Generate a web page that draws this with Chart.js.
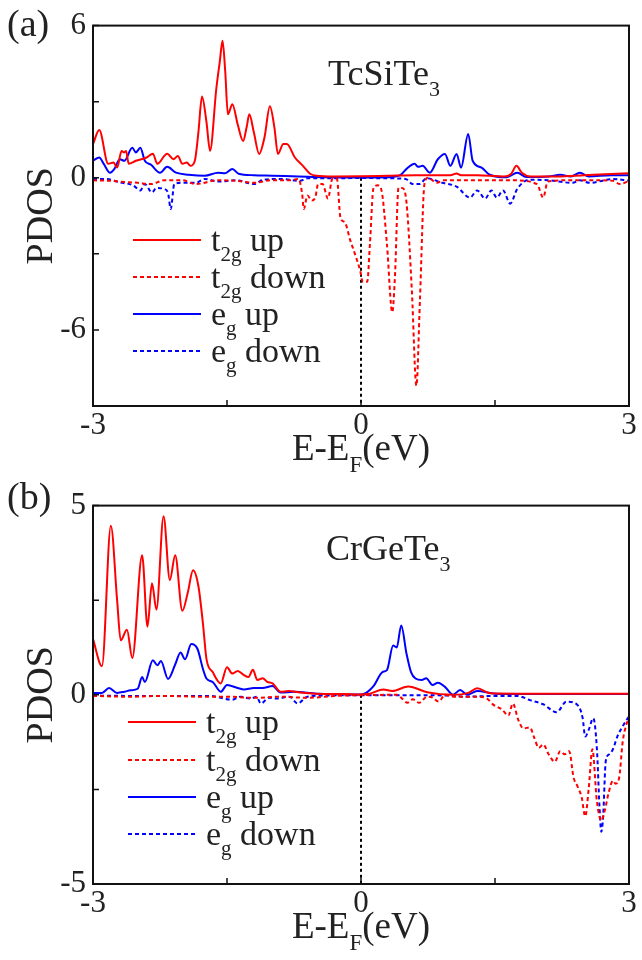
<!DOCTYPE html>
<html>
<head>
<meta charset="utf-8">
<script src="https://cdn.jsdelivr.net/npm/chart.js@4.4.0/dist/chart.umd.min.js"></script>
<style>
  html, body { margin: 0; padding: 0; background: #fff; }
  #wrap { position: relative; width: 642px; height: 960px; }
  .panel { position: absolute; left: 0; width: 642px; height: 480px; }
</style>
</head>
<body>
<div id="wrap">
  <div class="panel" style="top:0"><canvas id="chart-a"></canvas></div>
  <div class="panel" style="top:480px"><canvas id="chart-b"></canvas></div>
</div>
<script>
  'use strict';

  // ===========================================================================
  // DATA — (a) TcSiTe3
  // ===========================================================================

  const aT2gUpE = [-3, -2.93, -2.83, -2.77, -2.73, -2.68, -2.65, -2.63, -2.6, -2.52, -2.4, -2.33, -2.28, -2.17, -2.1, -2.05, -2.0, -1.95, -1.91, -1.86, -1.82, -1.78, -1.73, -1.69, -1.62, -1.58, -1.55, -1.52, -1.49, -1.44, -1.38, -1.32, -1.28, -1.25, -1.2, -1.14, -1.08, -1.02, -0.97, -0.93, -0.87, -0.83, -0.74, -0.65, -0.57, -0.5, -0.3, 0, 0.3, 0.6, 0.9, 1.0, 1.07, 1.12, 1.3, 1.6, 1.68, 1.74, 1.8, 1.9, 2.2, 2.5, 2.8, 3.0];
  const aT2gUpV = [1.33, 1.88, 0.55, 0.6, 0.4, 1.06, 1.0, 1.06, 0.55, 0.67, 0.8, 0.95, 0.55, 0.95, 0.73, 0.86, 0.55, 0.6, 0.47, 0.67, 1.8, 3.2, 2.2, 1.06, 3.5, 4.6, 5.4, 4.2, 2.5, 2.9, 2.1, 1.45, 2.0, 2.5, 1.8, 0.94, 1.6, 2.82, 2.0, 0.94, 1.33, 1.33, 0.8, 0.47, 0.16, 0.08, 0.05, 0.06, 0.08, 0.1, 0.1, 0.1, 0.17, 0.1, 0.1, 0.05, 0.15, 0.47, 0.2, 0.05, 0.05, 0.1, 0.15, 0.18];

  const aT2gDnE = [-3, -2.8, -2.7, -2.5, -2.35, -2.2, -2.0, -1.85, -1.6, -1.4, -1.2, -1.0, -0.8, -0.7, -0.66, -0.64, -0.6, -0.55, -0.51, -0.48, -0.43, -0.37, -0.32, -0.27, -0.23, -0.18, -0.12, -0.07, -0.01, 0.02, 0.07, 0.1, 0.14, 0.19, 0.23, 0.29, 0.35, 0.38, 0.42, 0.46, 0.51, 0.57, 0.62, 0.66, 0.71, 0.75, 0.85, 0.92, 1.1, 1.4, 1.7, 1.97, 2.04, 2.09, 2.3, 2.6, 2.82, 2.9, 3.0];
  const aT2gDnV = [-0.1, -0.12, -0.15, -0.2, -0.25, -0.1, -0.1, -0.25, -0.1, -0.12, -0.2, -0.1, -0.1, -0.05, -0.6, -1.23, -0.7, -0.9, -0.75, -0.25, -0.25, -0.82, -0.04, -0.04, -1.57, -1.76, -2.47, -2.98, -3.65, -4.1, -4.1, -2.6, -0.4, -0.3, -0.5, -2.6, -5.3, -3.9, -0.4, -0.4, -1.0, -4.5, -8.2, -4.8, -0.25, 0.0, -0.2, -0.1, -0.1, -0.1, -0.1, -0.25, -0.78, -0.15, -0.1, -0.1, -0.12, -0.25, -0.12];

  const aEgUpE = [-3, -2.93, -2.88, -2.81, -2.76, -2.7, -2.65, -2.56, -2.52, -2.47, -2.42, -2.35, -2.25, -2.17, -2.07, -1.93, -1.75, -1.6, -1.52, -1.44, -1.37, -1.2, -1.0, -0.7, -0.4, 0, 0.3, 0.44, 0.51, 0.6, 0.64, 0.69, 0.77, 0.86, 0.94, 1.0, 1.07, 1.12, 1.2, 1.25, 1.35, 1.44, 1.63, 1.75, 1.85, 2.1, 2.23, 2.35, 2.45, 2.55, 2.8, 3.0];
  const aEgUpV = [0.67, 0.8, 0.55, 0.2, 0.35, 0.73, 0.67, 1.18, 1.0, 1.18, 0.67, 0.51, 0.2, 0.43, 0.2, 0.12, 0.08, 0.2, 0.18, 0.35, 0.16, 0.1, 0.08, 0.05, 0.02, 0.01, 0.02, 0.1, 0.35, 0.55, 0.43, 0.47, 0.2, 0.73, 0.94, 0.47, 0.94, 0.4, 1.73, 0.67, 0.4, 0.12, 0.02, 0.2, 0.03, 0.05, 0.12, 0.05, 0.2, 0.05, 0.1, 0.1];

  const aEgDnE = [-3, -2.85, -2.7, -2.55, -2.47, -2.42, -2.34, -2.29, -2.2, -2.16, -2.13, -2.09, -2.0, -1.85, -1.75, -1.6, -1.4, -1.19, -1.1, -0.9, -0.68, -0.6, -0.3, 0, 0.3, 0.5, 0.58, 0.66, 0.73, 0.91, 1.07, 1.22, 1.3, 1.39, 1.46, 1.52, 1.59, 1.67, 1.75, 1.89, 2.1, 2.37, 2.45, 2.56, 2.82, 3.0];
  const aEgDnV = [-0.05, -0.05, -0.18, -0.3, -0.5, -0.25, -0.58, -0.4, -0.45, -0.6, -1.23, -0.25, -0.2, -0.2, -0.05, -0.15, -0.1, -0.25, -0.08, -0.05, -0.12, -0.02, -0.02, -0.01, -0.02, -0.05, -0.25, -0.25, -0.02, -0.2, -0.35, -0.78, -0.5, -0.82, -0.5, -0.78, -0.5, -1.02, -0.43, -0.08, -0.1, -0.2, -0.1, -0.2, -0.05, -0.12];

  // ===========================================================================
  // DATA — (b) CrGeTe3
  // ===========================================================================

  const bT2gUpE = [-3, -2.9, -2.8, -2.73, -2.69, -2.62, -2.56, -2.45, -2.39, -2.34, -2.29, -2.21, -2.14, -2.08, -2.0, -1.94, -1.88, -1.82, -1.77, -1.73, -1.66, -1.57, -1.5, -1.44, -1.38, -1.31, -1.26, -1.21, -1.16, -1.1, -1.05, -0.99, -0.9, -0.81, -0.68, -0.5, -0.2, 0, 0.1, 0.25, 0.35, 0.53, 0.74, 1.03, 1.2, 1.3, 1.45, 1.8, 2.2, 2.6, 3.0];
  const bT2gUpV = [1.47, 0.76, 4.47, 2.5, 1.44, 1.72, 0.97, 3.69, 1.8, 2.95, 2.25, 4.72, 3.03, 3.69, 2.22, 2.69, 3.29, 2.87, 1.9, 0.95, 0.6, 0.3, 0.73, 0.56, 0.63, 0.52, 0.47, 0.66, 0.39, 0.44, 0.34, 0.3, 0.08, 0.1, 0.06, 0.03, 0.02, 0.01, 0.03, 0.14, 0.1, 0.22, 0.07, 0.0, 0.05, 0.17, 0.04, 0.03, 0.03, 0.03, 0.03];

  const bT2gDnE = [-3, -2.6, -2.2, -1.8, -1.5, -1.2, -0.9, -0.6, -0.3, 0, 0.4, 0.46, 0.52, 0.58, 0.65, 0.74, 0.8, 0.87, 0.94, 1.03, 1.3, 1.41, 1.48, 1.58, 1.65, 1.7, 1.76, 1.82, 1.89, 1.94, 1.99, 2.04, 2.1, 2.17, 2.23, 2.28, 2.33, 2.38, 2.42, 2.47, 2.51, 2.55, 2.59, 2.64, 2.69, 2.73, 2.77, 2.82, 2.85, 2.89, 2.93, 2.97, 3.0];
  const bT2gDnV = [-0.03, -0.05, -0.03, -0.05, -0.05, -0.08, -0.05, -0.08, -0.03, -0.01, 0, -0.1, -0.21, -0.12, -0.21, -0.05, -0.07, -0.18, 0, -0.05, -0.05, -0.1, -0.26, -0.39, -0.55, -0.23, -0.66, -0.89, -0.86, -1.14, -1.4, -1.31, -1.57, -1.77, -1.49, -1.57, -1.49, -2.19, -2.4, -2.71, -3.21, -2.45, -1.44, -2.8, -3.32, -3.05, -2.61, -2.27, -2.35, -2.19, -1.23, -0.79, -0.6];

  const bEgUpE = [-3, -2.9, -2.82, -2.73, -2.65, -2.58, -2.5, -2.45, -2.42, -2.33, -2.28, -2.24, -2.16, -2.08, -2.02, -1.97, -1.9, -1.83, -1.77, -1.73, -1.66, -1.57, -1.5, -1.38, -1.31, -1.2, -1.1, -0.99, -0.9, -0.75, -0.5, 0, 0.03, 0.14, 0.24, 0.29, 0.36, 0.4, 0.45, 0.51, 0.56, 0.61, 0.68, 0.73, 0.8, 0.86, 0.94, 1.03, 1.11, 1.19, 1.3, 1.5, 2.0, 2.5, 3.0];
  const bEgUpV = [0.05, 0.05, 0.18, 0.05, 0.08, 0.12, 0.16, 0.47, 0.34, 0.91, 0.78, 0.89, 0.42, 0.8, 1.12, 0.94, 1.34, 1.21, 0.69, 0.43, 0.34, 0.08, 0.26, 0.18, 0.14, 0.18, 0.18, 0.23, 0.06, 0.08, 0.03, 0.01, 0.02, 0.23, 0.6, 0.65, 1.3, 1.25, 1.83, 1.08, 0.6, 0.43, 0.39, 0.44, 0.26, 0.32, 0.21, 0.0, 0.13, 0.0, 0.1, 0.03, 0.02, 0.02, 0.02];

  const bEgDnE = [-3, -2.5, -2.0, -1.7, -1.44, -1.35, -1.23, -1.17, -1.12, -1.03, -0.94, -0.8, -0.71, -0.6, -0.4, 0, 0.5, 1.0, 1.15, 1.5, 1.75, 1.89, 2.04, 2.19, 2.3, 2.42, 2.48, 2.51, 2.55, 2.6, 2.64, 2.67, 2.69, 2.71, 2.74, 2.78, 2.82, 2.87, 2.94, 3.0];
  const bEgDnV = [-0.02, -0.03, -0.03, -0.03, -0.13, -0.05, -0.1, -0.05, -0.23, -0.08, -0.1, -0.05, -0.23, -0.05, -0.02, -0.01, -0.01, -0.02, -0.05, -0.03, -0.03, -0.14, -0.25, -0.46, -0.18, -0.26, -0.6, -1.1, -0.92, -0.62, -1.4, -2.97, -3.62, -3.23, -1.75, -1.57, -1.44, -1.1, -0.79, -0.57];

  // Axis ticks.
  const xTicks = [-3, -1.5, 0, 1.5, 3];
  const xTickLabels = ['-3', '', '0', '', '3'];
  const aYTicks = [-9, -6, -3, 0, 3, 6];
  const aYTickLabels = ['', '-6', '', '0', '', '6'];
  const bYTicks = [-5, -2.5, 0, 2.5, 5];
  const bYTickLabels = ['-5', '', '0', '', '5'];

  const legendLabels = [['t', '2g', ' up'], ['t', '2g', ' down'], ['e', 'g', ' up'], ['e', 'g', ' down']];

  // ===========================================================================
  // HELPERS
  // ===========================================================================

  const SERIF = '"Liberation Serif", "Times New Roman", serif';
  const RED = '#ff0000';
  const BLUE = '#0000ff';
  const INK = '#222222';

  function toPoints(xs, ys) {
    return xs.map((x, i) => ({ x: x, y: ys[i] }));
  }

  // Draws text runs; each run is [text, isSubscript].
  function drawRuns(ctx, runs, x, y, size, align, subDrop) {
    const subSize = Math.round(size * 0.62);
    const drop = subDrop || size * 0.3;
    const widths = runs.map(([t, sub]) => {
      ctx.font = `${sub ? subSize : size}px ${SERIF}`;
      return ctx.measureText(t).width;
    });
    const total = widths.reduce((a, b) => a + b, 0);
    let cx = align === 'center' ? x - total / 2 : x;
    ctx.textAlign = 'left';
    ctx.textBaseline = 'alphabetic';
    runs.forEach(([t, sub], i) => {
      ctx.font = `${sub ? subSize : size}px ${SERIF}`;
      ctx.fillText(t, cx, sub ? y + drop : y);
      cx += widths[i];
    });
  }

  function lineSet(label, pts, color, dashed) {
    return {
      label: label,
      data: pts,
      borderColor: color,
      borderWidth: 2,
      borderDash: dashed ? [4, 3] : [],
      pointRadius: 0,
      fill: false,
      cubicInterpolationMode: 'monotone',
      tension: 0.4,
    };
  }

  // Frame, inward ticks, zero line, legend and labels.
  const decorPlugin = {
    id: 'decor',
    beforeDatasetsDraw(chart, args, o) {
      const ctx = chart.ctx;
      const x0 = chart.scales.x.getPixelForValue(0);
      const y0 = chart.scales.y.getPixelForValue(0);
      ctx.save();
      ctx.strokeStyle = '#000';
      ctx.lineWidth = 2;
      ctx.setLineDash([3, 3]);
      ctx.beginPath();
      ctx.moveTo(x0, y0);
      ctx.lineTo(x0, chart.chartArea.bottom);
      ctx.stroke();
      ctx.restore();
    },
    afterDraw(chart, args, o) {
      const ctx = chart.ctx;
      const area = chart.chartArea;
      const xs = chart.scales.x;
      const ys = chart.scales.y;
      ctx.save();
      ctx.fillStyle = INK;
      ctx.strokeStyle = '#111';

      // Inward ticks.
      ctx.lineWidth = 1.5;
      ctx.beginPath();
      xTicks.forEach(v => {
        const px = xs.getPixelForValue(v);
        ctx.moveTo(px, area.bottom);
        ctx.lineTo(px, area.bottom - 6);
      });
      o.yTicks.forEach(v => {
        const py = ys.getPixelForValue(v);
        ctx.moveTo(area.left, py);
        ctx.lineTo(area.left + 6, py);
      });
      ctx.stroke();

      // Frame.
      ctx.lineWidth = 2;
      ctx.strokeRect(area.left, area.top, area.right - area.left, area.bottom - area.top);

      // Legend.
      const colors = [RED, RED, BLUE, BLUE];
      o.legendY.forEach((ly, i) => {
        ctx.strokeStyle = colors[i];
        ctx.lineWidth = 2;
        ctx.setLineDash(i % 2 ? [4, 3] : []);
        ctx.beginPath();
        ctx.moveTo(o.legendX, ly);
        ctx.lineTo(o.legendX + 68, ly);
        ctx.stroke();
        ctx.setLineDash([]);
        const [a, s, b] = legendLabels[i];
        drawRuns(ctx, [[a, false], [s, true], [b, false]], o.legendX + 78, ly + 11, 34, 'left');
      });

      // Compound name.
      drawRuns(ctx, [[o.title[0], false], [o.title[1], true]], o.titleX, o.titleY, 36, 'left');

      // Panel tag.
      ctx.font = `38px ${SERIF}`;
      ctx.textAlign = 'left';
      ctx.fillText(o.tag, 7, o.tagY);

      // Axis titles.
      drawRuns(ctx, [['E-E', false], ['F', true], ['(eV)', false]], xs.getPixelForValue(0), area.bottom + 54, 37, 'center', 12);
      ctx.save();
      ctx.translate(52, (area.top + area.bottom) / 2);
      ctx.rotate(-Math.PI / 2);
      ctx.font = `38px ${SERIF}`;
      ctx.textAlign = 'center';
      ctx.fillText('PDOS', 0, 0);
      ctx.restore();

      ctx.restore();
    },
  };

  function buildPanel(canvasId, sets, yMin, yMax, yTicks, yLabels, pad, decor) {
    const ctx = document.getElementById(canvasId);
    new Chart(ctx, {
      type: 'line',
      data: {
        datasets: [
          lineSet('t2g up', toPoints(sets[0], sets[1]), RED, false),
          lineSet('t2g down', toPoints(sets[2], sets[3]), RED, true),
          lineSet('eg up', toPoints(sets[4], sets[5]), BLUE, false),
          lineSet('eg down', toPoints(sets[6], sets[7]), BLUE, true),
        ],
      },
      options: {
        responsive: true,
        maintainAspectRatio: false,
        animation: false,
        devicePixelRatio: 1,
        layout: { padding: pad },
        plugins: {
          legend: { display: false },
          tooltip: { enabled: false },
          decor: Object.assign({ yTicks: yTicks }, decor),
        },
        scales: {
          x: {
            type: 'linear',
            min: -3,
            max: 3,
            grid: { display: false, drawTicks: false },
            border: { display: false },
            afterBuildTicks: s => { s.ticks = xTicks.map(v => ({ value: v })); },
            afterFit: s => { s.height = decor.xAxisH; },
            ticks: {
              padding: 1,
              maxRotation: 0,
              autoSkip: false,
              color: INK,
              font: { family: SERIF, size: 31 },
              callback: v => xTickLabels[xTicks.indexOf(v)] || '',
            },
          },
          y: {
            type: 'linear',
            min: yMin,
            max: yMax,
            grid: { display: false, drawTicks: false },
            border: { display: false },
            afterBuildTicks: s => { s.ticks = yTicks.map(v => ({ value: v })); },
            afterFit: s => { s.width = 93; },
            ticks: {
              padding: 7,
              autoSkip: false,
              color: INK,
              font: { family: SERIF, size: 31 },
              callback: v => yLabels[yTicks.indexOf(v)] || '',
            },
          },
        },
      },
      plugins: [decorPlugin],
    });
  }

  buildPanel('chart-a',
    [aT2gUpE, aT2gUpV, aT2gDnE, aT2gDnV, aEgUpE, aEgUpV, aEgDnE, aEgDnV],
    -9, 6, aYTicks, aYTickLabels,
    { left: 0, top: 23, right: 13, bottom: 0 },
    { xAxisH: 74, legendX: 133, legendY: [240, 277, 314, 351], title: ['TcSiTe', '3'], titleX: 328, titleY: 85, tag: '(a)', tagY: 36 });

  buildPanel('chart-b',
    [bT2gUpE, bT2gUpV, bT2gDnE, bT2gDnV, bEgUpE, bEgUpV, bEgDnE, bEgDnV],
    -5, 5, bYTicks, bYTickLabels,
    { left: 0, top: 21, right: 13, bottom: 0 },
    { xAxisH: 76, legendX: 128, legendY: [242, 280, 317, 354], title: ['CrGeTe', '3'], titleX: 326, titleY: 80, tag: '(b)', tagY: 29 });
</script>
</body>
</html>
